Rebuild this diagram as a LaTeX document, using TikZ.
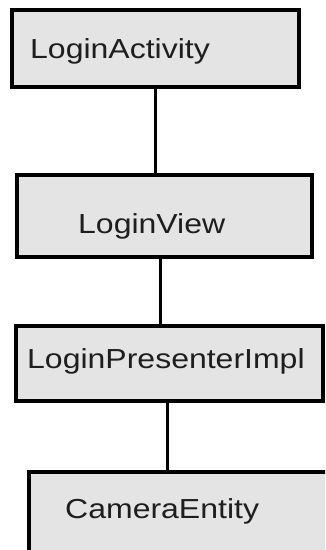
\documentclass[tikz,border=0pt]{standalone}
\usepackage{fontspec}
\setmainfont{Liberation Sans}
\usepackage{tikz}
\usetikzlibrary{positioning}
\definecolor{boxgray}{HTML}{E4E4E4}
\definecolor{textgray}{HTML}{1E1E1E}
\newcommand{\boxlabel}[1]{\scalebox{1}[0.86]{#1}}

\begin{document}
\begin{tikzpicture}[x=1pt, y=-1pt,
  box/.style={draw, rectangle, fill=boxgray, line width=3.2pt, inner sep=0pt},
  txt/.style={anchor=base west, inner sep=0pt, text=textgray, font=\fontsize{32}{32}\selectfont},
  link/.style={line width=3pt}]
  \clip (0,0) rectangle (325,550);
  \fill[white] (0,0) rectangle (325,550);

  \node (act) [box, minimum width=287pt, minimum height=77pt] at (155.5,48.5) {};
  \node (view) [box, minimum width=295pt, minimum height=82pt] at (164.5,216) {};
  \node (pres) [box, minimum width=307pt, minimum height=75pt] at (169.5,363.5) {};
  \node (cam) [box, minimum width=316pt, minimum height=108pt] at (187,526) {};

  \node (acttext) [txt] at (30,58) {\boxlabel{LoginActivity}};
  \node (viewtext) [txt] at (78,233) {\boxlabel{LoginView}};
  \node (prestext) [txt] at (27,368) {\boxlabel{LoginPresenterImpl}};
  \node (camtext) [txt] at (65,518) {\boxlabel{CameraEntity}};

  \draw[link] (act.south) -- (act.south |- view.north);
  \draw[link] ([xshift=-4.5pt]view.south) -- ([xshift=-4.5pt]view.south |- pres.north);
  \draw[link] ([xshift=-2.5pt]pres.south) -- ([xshift=-2.5pt]pres.south |- cam.north);
\end{tikzpicture}
\end{document}
